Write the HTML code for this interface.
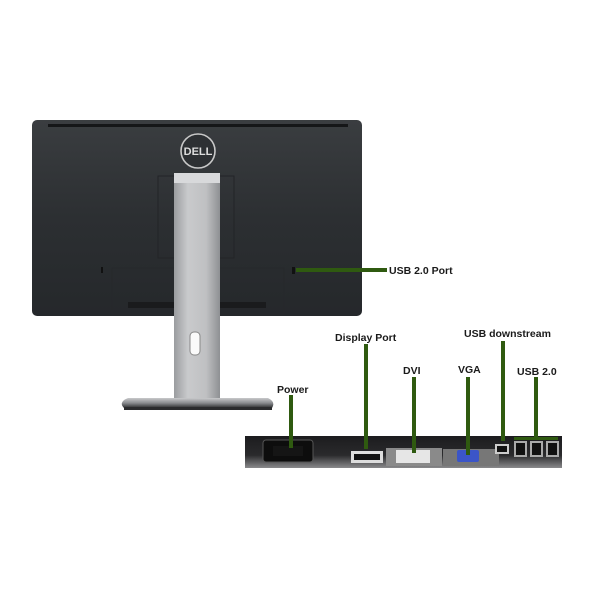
<!DOCTYPE html>
<html><head><meta charset="utf-8"><style>
html,body{margin:0;padding:0;background:#fff;}
svg{display:block}
text{font-family:"Liberation Sans",sans-serif;font-weight:bold;font-size:10.5px;fill:#1a1a1a}
</style></head><body>
<svg width="600" height="600" viewBox="0 0 600 600">
<defs>
<linearGradient id="bd" x1="0" y1="0" x2="0" y2="1"><stop offset="0" stop-color="#3a3d40"/><stop offset="0.5" stop-color="#2c2f32"/><stop offset="1" stop-color="#25282b"/></linearGradient>
<linearGradient id="nk" x1="0" y1="0" x2="1" y2="0"><stop offset="0" stop-color="#9a9c9f"/><stop offset="0.3" stop-color="#c9cacc"/><stop offset="0.7" stop-color="#bfc0c2"/><stop offset="1" stop-color="#8e9093"/></linearGradient>
<linearGradient id="bs" x1="0" y1="0" x2="0" y2="1"><stop offset="0" stop-color="#c8c9cb"/><stop offset="0.5" stop-color="#8a8c8f"/><stop offset="1" stop-color="#2a2b2d"/></linearGradient>
<linearGradient id="pn" x1="0" y1="0" x2="0" y2="1"><stop offset="0" stop-color="#1c1c1e"/><stop offset="0.6" stop-color="#2a2a2c"/><stop offset="1" stop-color="#8a8a8c"/></linearGradient>
</defs>
<rect x="32" y="120" width="330" height="196" rx="5" fill="url(#bd)"/>
<rect x="48" y="124" width="300" height="3" fill="#151618"/>
<rect x="158" y="176" width="76" height="82" fill="none" stroke="#222427" stroke-width="1"/>
<rect x="112" y="268" width="172" height="46" fill="none" stroke="#26282b" stroke-width="1"/>
<rect x="128" y="302" width="138" height="6" fill="#1a1b1d"/>
<rect x="101" y="267" width="2" height="6" fill="#111"/>
<rect x="292" y="267" width="3" height="7" fill="#111"/>
<circle cx="198" cy="151" r="17" fill="#2d3033" stroke="#c8c8c8" stroke-width="1.6"/>
<text x="198" y="155" text-anchor="middle" style="font-size:11px;fill:#ddd">DELL</text>
<rect x="174" y="173" width="46" height="226" fill="url(#nk)"/>
<rect x="174" y="173" width="46" height="10" fill="#d8d9db"/>
<rect x="190" y="332" width="10" height="23" rx="4" fill="#fafafa" stroke="#888" stroke-width="1"/>
<path d="M128 398 L268 398 Q276 402 272 408 L124 408 Q118 402 128 398Z" fill="url(#bs)"/>
<rect x="124" y="407" width="148" height="3" fill="#2a2b2d"/>
<rect x="296" y="268" width="91" height="4" fill="#2f5a10"/>
<text x="389" y="274">USB 2.0 Port</text>
<rect x="245" y="436" width="317" height="32" fill="url(#pn)"/>
<rect x="263" y="440" width="50" height="22" rx="3" fill="#0d0d0d" stroke="#555" stroke-width="1"/>
<rect x="273" y="446" width="30" height="10" fill="#151515"/>
<rect x="351" y="451" width="32" height="12" fill="#ddd"/>
<rect x="354" y="454" width="26" height="6" fill="#111"/>
<rect x="386" y="448" width="56" height="18" fill="#8a8a8a"/>
<rect x="396" y="450" width="34" height="13" fill="#e6e6e6"/>
<rect x="443" y="449" width="56" height="17" fill="#777"/>
<rect x="457" y="450" width="22" height="12" rx="2" fill="#3b55c8"/>
<rect x="495" y="444" width="14" height="10" fill="#ccc"/>
<rect x="497" y="446" width="10" height="6" fill="#111"/>
<rect x="514" y="441" width="13" height="16" fill="#aaa"/>
<rect x="530" y="441" width="13" height="16" fill="#aaa"/>
<rect x="546" y="441" width="13" height="16" fill="#aaa"/>
<rect x="516" y="443" width="9" height="12" fill="#111"/>
<rect x="532" y="443" width="9" height="12" fill="#111"/>
<rect x="548" y="443" width="9" height="12" fill="#111"/>
<g fill="#2f5a10">
<rect x="289" y="395" width="4" height="53"/>
<rect x="364" y="344" width="4" height="105"/>
<rect x="412" y="377" width="4" height="76"/>
<rect x="466" y="377" width="4" height="78"/>
<rect x="501" y="341" width="4" height="100"/>
<rect x="534" y="377" width="4" height="62"/>
<rect x="514" y="437" width="44" height="3"/>
</g>
<text x="277" y="393">Power</text>
<text x="335" y="341">Display Port</text>
<text x="403" y="374">DVI</text>
<text x="458" y="373">VGA</text>
<text x="464" y="337">USB downstream</text>
<text x="517" y="375">USB 2.0</text>
</svg>
</body></html>
